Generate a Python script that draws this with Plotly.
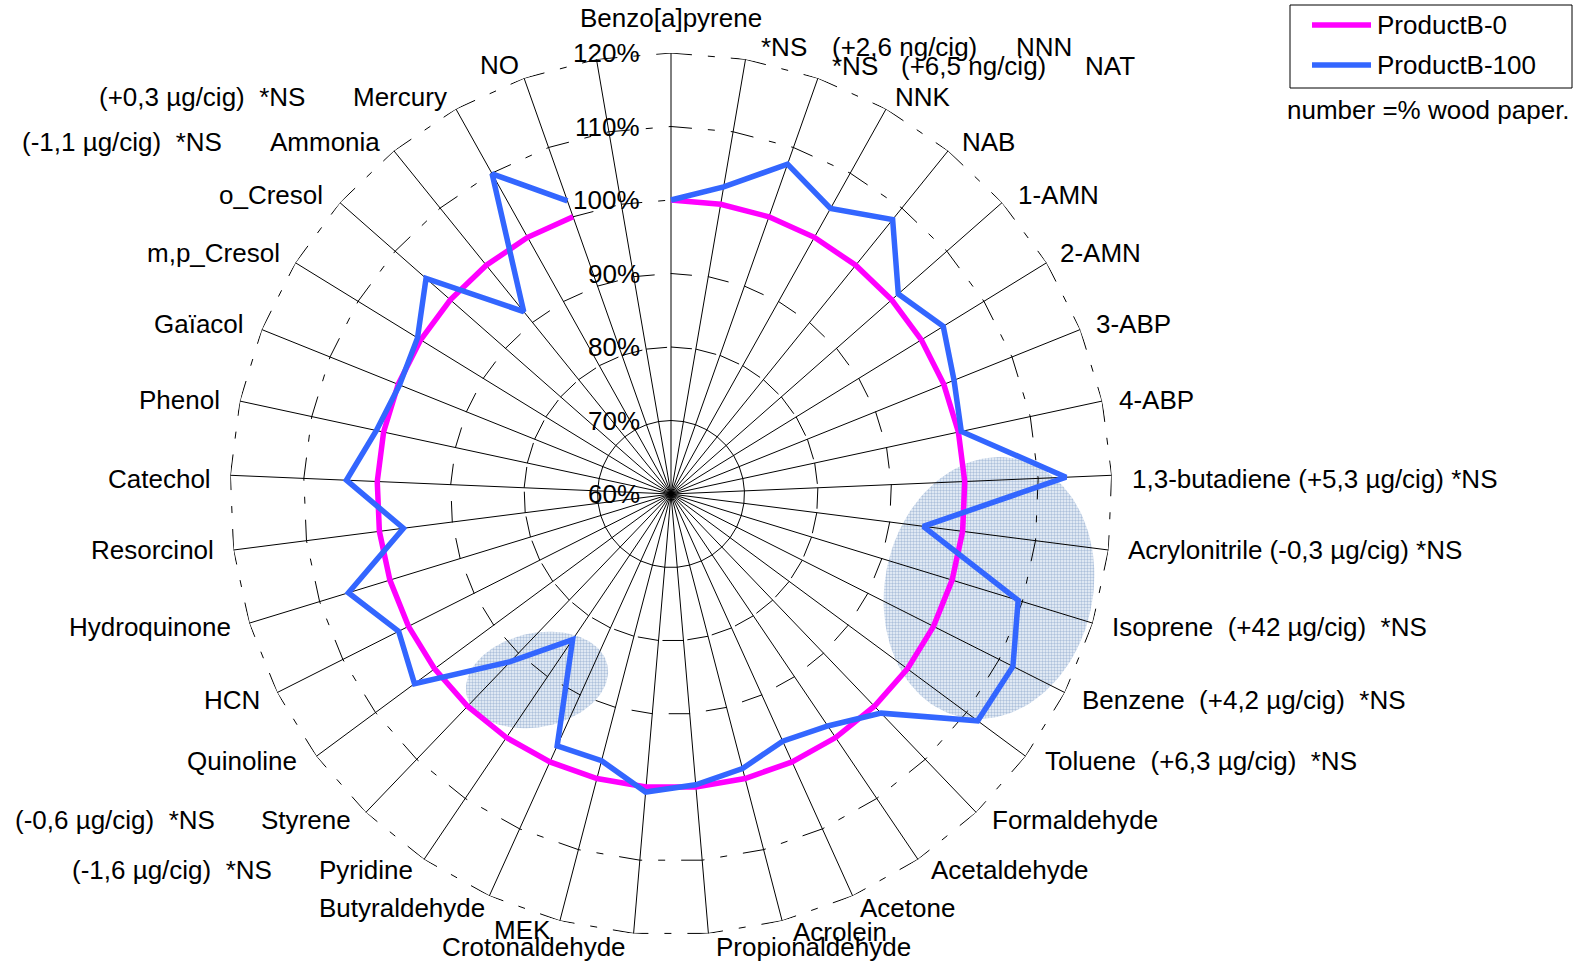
import numpy as np
import plotly.graph_objects as go

W, H = 1586, 962
FONT = "Liberation Sans, Arial, sans-serif"
FS = 26

# Smoke constituents, clockwise from the top spoke
categories = [
    "Benzo[a]pyrene", "NNN", "NAT", "NNK", "NAB", "1-AMN", "2-AMN", "3-ABP", "4-ABP",
    "1,3-butadiene", "Acrylonitrile", "Isoprene", "Benzene", "Toluene", "Formaldehyde",
    "Acetaldehyde", "Acetone", "Acrolein", "Propionaldehyde", "Crotonaldehyde", "MEK",
    "Butyraldehyde", "Pyridine", "Styrene", "Quinoline", "HCN", "Hydroquinone",
    "Resorcinol", "Catechol", "Phenol", "Gaïacol", "m,p_Cresol", "o_Cresol",
    "Ammonia", "Mercury", "NO",
]

series_names = ["ProductB-0", "ProductB-100"]
series_colors = ["#FF00FF", "#3366FF"]

# Yields relative to ProductB-0 (%)
product_b0 = [
    100, 100, 100, 100, 100, 100, 100, 100, 100,
    100, 100, 100, 100, 100, 100, 100, 100, 100,
    100, 100, 100, 100, 100, 100, 100, 100, 100,
    100, 100, 100, 100, 100, 100, 100, 100, 100,
]
product_b100 = [
    100.0, 102.4, 107.6, 104.5, 108.0, 101.2, 103.5, 101.5, 100.4,
    113.8, 94.6, 109.4, 112.1, 111.9, 101.3, 98.1, 96.9, 98.6,
    99.7, 100.7, 97.5, 97.6, 83.9, 91.6, 103.4, 101.5, 105.9,
    96.7, 104.2, 101.0, 99.8, 100.5, 104.4, 91.9, 109.9, 102.3,
]

radial_ticks = [60, 70, 80, 90, 100, 110, 120]
radial_ticktext = ["60%", "70%", "80%", "90%", "100%", "110%", "120%"]
R_MIN, R_MAX = 60, 120

# One extra, empty slot closes the circle after "NO"
n_slots = len(categories) + 1
step = 360.0 / n_slots
angles = [i * step for i in range(n_slots)]
theta_data = angles[: len(categories)]

# Radar placement on the page (pixels)
CX, CY, RADIUS = 671, 494, 441

# Category label placement (pixel centre / anchor) and extra notes
label_pos = {
    "Benzo[a]pyrene": (671, 18, "center"),
    "NNN": (1044, 47, "center"),
    "NAT": (1110, 66, "center"),
    "NNK": (923, 97, "center"),
    "NAB": (988, 142, "center"),
    "1-AMN": (1058, 195, "center"),
    "2-AMN": (1100, 253, "center"),
    "3-ABP": (1133, 324, "center"),
    "4-ABP": (1156, 400, "center"),
    "1,3-butadiene": (1130, 479, "left"),
    "Acrylonitrile": (1126, 550, "left"),
    "Isoprene": (1110, 627, "left"),
    "Benzene": (1080, 700, "left"),
    "Toluene": (1043, 761, "left"),
    "Formaldehyde": (990, 820, "left"),
    "Acetaldehyde": (929, 870, "left"),
    "Acetone": (907, 908, "center"),
    "Acrolein": (840, 932, "center"),
    "Propionaldehyde": (813, 947, "center"),
    "Crotonaldehyde": (534, 947, "center"),
    "MEK": (522, 930, "center"),
    "Butyraldehyde": (402, 908, "center"),
    "Pyridine": (366, 870, "center"),
    "Styrene": (306, 820, "center"),
    "Quinoline": (299, 761, "right"),
    "HCN": (262, 700, "right"),
    "Hydroquinone": (233, 627, "right"),
    "Resorcinol": (216, 550, "right"),
    "Catechol": (213, 479, "right"),
    "Phenol": (222, 400, "right"),
    "Gaïacol": (246, 324, "right"),
    "m,p_Cresol": (282, 253, "right"),
    "o_Cresol": (325, 195, "right"),
    "Ammonia": (325, 142, "center"),
    "Mercury": (400, 97, "center"),
    "NO": (499, 65, "center"),
}
label_suffix = {
    "1,3-butadiene": " (+5,3 µg/cig) *NS",
    "Acrylonitrile": " (-0,3 µg/cig) *NS",
    "Isoprene": "  (+42 µg/cig)  *NS",
    "Benzene": "  (+4,2 µg/cig)  *NS",
    "Toluene": "  (+6,3 µg/cig)  *NS",
}
notes = [
    ("*NS", 784, 47), ("(+2,6 ng/cig)", 904, 47),
    ("*NS", 855, 66), ("(+6,5 ng/cig)", 973, 66),
    ("(-1,6 µg/cig)  *NS", 172, 870),
    ("(-0,6 µg/cig)  *NS", 115, 820),
    ("(-1,1 µg/cig)  *NS", 122, 142),
    ("(+0,3 µg/cig)  *NS", 202, 97),
]

# Highlight ellipses (pixel centre, semi-axes, tilt in degrees)
highlights = [
    (989, 588, 104, 132, 12),
    (537, 680, 72, 47, -12),
]

# Legend box (pixels)
LEG_BOX = (1290, 5, 1572, 88)
LEG_ROWS = [25, 65]
LEG_LINE_X = (1312, 1371)
LEG_TEXT_X = 1375

fig = go.Figure()

# Shaded highlight regions on a full-page cartesian layer beneath the radar
for cx, cy, ax, ay, tilt in highlights:
    t = np.linspace(0, 2 * np.pi, 120)
    a = np.radians(tilt)
    ex = cx + ax * np.cos(t) * np.cos(a) - ay * np.sin(t) * np.sin(a)
    ey = cy + ax * np.cos(t) * np.sin(a) + ay * np.sin(t) * np.cos(a)
    fig.add_trace(go.Scatter(
        x=ex, y=ey, mode="lines", fill="toself", line=dict(width=0),
        fillcolor="rgba(255,255,255,0)",
        fillpattern=dict(shape=".", fgcolor="#6d8fbd", bgcolor="rgba(225,234,245,0.55)",
                         size=3, solidity=0.5),
        hoverinfo="skip", showlegend=False,
    ))

# Legend line samples
for row_y, col in zip(LEG_ROWS, series_colors):
    fig.add_trace(go.Scatter(
        x=list(LEG_LINE_X), y=[row_y, row_y], mode="lines",
        line=dict(color=col, width=5.5), hoverinfo="skip", showlegend=False,
    ))

# Polygon gridlines: each edge restarts a long-dash-dot pattern at its spoke
for lev in radial_ticks[1:]:
    rr, tt = [], []
    for i in range(n_slots):
        rr += [lev, lev, None]
        tt += [angles[i], angles[i] + step, None]
    fig.add_trace(go.Scatterpolar(
        r=rr, theta=tt, mode="lines",
        line=dict(color="black", width=1, dash="21px,16px,7px,16px"),
        hoverinfo="skip", showlegend=False, connectgaps=False,
    ))

for name, col, vals in zip(series_names, series_colors, [product_b0, product_b100]):
    fig.add_trace(go.Scatterpolar(
        r=vals, theta=theta_data, mode="lines", name=name,
        line=dict(color=col, width=5.5), showlegend=False,
    ))


def text_ann(txt, x, y, anchor="center"):
    return dict(
        text=txt, x=x / W, y=1 - y / H, xref="paper", yref="paper",
        xanchor=anchor, yanchor="middle", showarrow=False,
        font=dict(family=FONT, size=FS, color="black"),
    )


annotations = []
for name in categories:
    x, y, anchor = label_pos[name]
    annotations.append(text_ann(name + label_suffix.get(name, ""), x, y, anchor))
for txt, x, y in notes:
    annotations.append(text_ann(txt, x, y))

# Radial scale labels, left of the top spoke
for v, txt in zip(radial_ticks, radial_ticktext):
    ypix = CY - (v - R_MIN) / (R_MAX - R_MIN) * RADIUS
    annotations.append(text_ann(txt, CX - 29, ypix, "right"))

# Legend text
for row_y, name in zip(LEG_ROWS, series_names):
    annotations.append(text_ann(name, LEG_TEXT_X, row_y, "left"))
annotations.append(text_ann("number =% wood paper.", 1428, 110))

shapes = [dict(
    type="rect", xref="x", yref="y",
    x0=LEG_BOX[0], y0=LEG_BOX[1], x1=LEG_BOX[2], y1=LEG_BOX[3],
    line=dict(color="black", width=1), fillcolor="rgba(0,0,0,0)", layer="above",
)]

fig.update_layout(
    width=W, height=H, margin=dict(l=0, r=0, t=0, b=0),
    paper_bgcolor="white", plot_bgcolor="rgba(0,0,0,0)",
    font=dict(family=FONT, size=FS, color="black"),
    xaxis=dict(range=[0, W], visible=False, domain=[0, 1], fixedrange=True),
    yaxis=dict(range=[H, 0], visible=False, domain=[0, 1], fixedrange=True),
    polar=dict(
        domain=dict(x=[(CX - RADIUS) / W, (CX + RADIUS) / W],
                    y=[1 - (CY + RADIUS) / H, 1 - (CY - RADIUS) / H]),
        bgcolor="rgba(0,0,0,0)",
        radialaxis=dict(
            range=[R_MIN, R_MAX], tickmode="array", tickvals=radial_ticks,
            showticklabels=False, angle=90, showline=False, showgrid=False, ticks="",
        ),
        angularaxis=dict(
            direction="clockwise", rotation=90, thetaunit="degrees",
            tickmode="array", tickvals=angles, showticklabels=False, ticks="",
            showgrid=True, gridcolor="black", gridwidth=1, showline=False,
        ),
    ),
    annotations=annotations,
    shapes=shapes,
    showlegend=False,
)

fig.write_html("out.html")
